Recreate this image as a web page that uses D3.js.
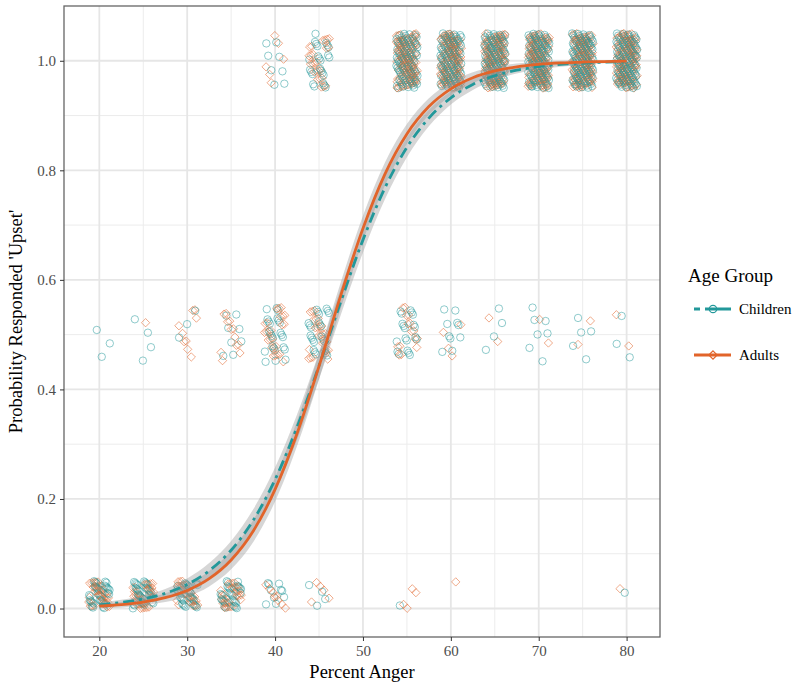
<!DOCTYPE html>
<html><head><meta charset="utf-8">
<script src="https://cdn.jsdelivr.net/npm/d3@7"></script>
<style>body{margin:0;background:#fff}</style></head>
<body><svg id="c" width="800" height="689"></svg>
<script>
// ---------- data ----------
const xLevels = [20,25,30,35,40,45,50,55,60,65,70,75,80];
const responseLevels = [0, 0.5, 1];
// number of observations at each anger level, by response (0 / 0.5 / 1)
const childZero = [35,35,30,30,10,4,0,1,0,0,0,0,1];
const childHalf = [3,4,3,8,25,25,0,20,10,4,7,5,3];
const childOne  = [0,0,0,0,8,25,0,95,100,105,105,105,105];
const adultZero = [35,35,30,30,8,5,0,4,1,0,0,0,1];
const adultHalf = [0,1,9,12,25,25,0,15,4,2,2,2,2];
const adultOne  = [0,0,0,0,6,25,0,95,100,105,105,105,105];

// fitted curves
const curveX = [20,22.5,25,27.5,30,32.5,35,37.5,40,42.5,45,47.5,50,52.5,55,57.5,60,62.5,65,67.5,70,72.5,75,77.5,80];
const childFit = [0.0068,0.0110,0.0175,0.0278,0.0440,0.0690,0.1064,0.1607,0.2355,0.3311,0.4432,0.5614,0.6730,0.7680,0.8419,0.8954,0.9323,0.9568,0.9727,0.9828,0.9893,0.9933,0.9958,0.9974,0.9984];
const adultFit = [0.0042,0.0070,0.0118,0.0197,0.0329,0.0544,0.0886,0.1411,0.2174,0.3195,0.4425,0.5730,0.6940,0.7932,0.8664,0.9164,0.9488,0.9690,0.9814,0.9889,0.9934,0.9961,0.9977,0.9986,0.9992];
const bandHalf = [0.004,0.005,0.006,0.008,0.011,0.014,0.017,0.020,0.022,0.023,0.024,0.024,0.023,0.021,0.018,0.015,0.012,0.010,0.008,0.006,0.005,0.004,0.003,0.002,0.002];

const xTicks = [20,30,40,50,60,70,80];
const yTicks = [0,0.2,0.4,0.6,0.8,1.0];
const groups = ["Children","Adults"];

// ---------- setup ----------
const teal = "#22989a", orange = "#e2642a";
const svg = d3.select("#c");
const L=64, R=660, T=6, B=637;
const x = d3.scaleLinear().domain([15.98,83.8]).range([L,R]);
const y = d3.scaleLinear().domain([-0.052,1.1]).range([B,T]);
const font = "Liberation Serif, Times New Roman, serif";

svg.append("rect").attr("width",800).attr("height",689).attr("fill","#fff");

// grid
const g = svg.append("g");
const xMinor = d3.range(25,85,10), yMinor=[0.1,0.3,0.5,0.7,0.9];
g.selectAll(".xm").data(xMinor).enter().append("line")
  .attr("x1",d=>x(d)).attr("x2",d=>x(d)).attr("y1",T).attr("y2",B)
  .attr("stroke","#ececec").attr("stroke-width",1);
g.selectAll(".ym").data(yMinor).enter().append("line")
  .attr("y1",d=>y(d)).attr("y2",d=>y(d)).attr("x1",L).attr("x2",R)
  .attr("stroke","#ececec").attr("stroke-width",1);
g.selectAll(".xM").data(xTicks).enter().append("line")
  .attr("x1",d=>x(d)).attr("x2",d=>x(d)).attr("y1",T).attr("y2",B)
  .attr("stroke","#e6e6e6").attr("stroke-width",1.8);
g.selectAll(".yM").data(yTicks).enter().append("line")
  .attr("y1",d=>y(d)).attr("y2",d=>y(d)).attr("x1",L).attr("x2",R)
  .attr("stroke","#e6e6e6").attr("stroke-width",1.8);

// ---------- points (deterministic jitter) ----------
function buildPoints(zero, half, one, group, a, b, off){
  const pts=[]; const arrs=[zero,half,one];
  let k = off;
  xLevels.forEach((lv,i)=>{
    responseLevels.forEach((r,j)=>{
      const n = arrs[j][i];
      for(let m=0;m<n;m++){
        k++;
        const u = (k*a + 0.13) % 1;
        const v = (k*b + 0.41) % 1;
        const jx = (u-0.5)*2.4;
        const jy = r===0 ? v*0.05 : (v-0.5)*0.1;
        pts.push({x:lv+jx, y:r+jy, g:group});
      }
    });
  });
  return pts;
}
const childPts = buildPoints(childZero,childHalf,childOne,"Children",0.6180339887,0.7548776662,0);
const adultPts = buildPoints(adultZero,adultHalf,adultOne,"Adults",0.4142135624,0.5698402910,5);
const allPts = [];
const maxLen = Math.max(childPts.length, adultPts.length);
for(let i=0;i<maxLen;i++){ if(i<adultPts.length) allPts.push(adultPts[i]); if(i<childPts.length) allPts.push(childPts[i]); }

const pg = svg.append("g");
const diamond = d3.symbol().type(d3.symbolDiamond2).size(44);
allPts.forEach(p=>{
  if(p.g==="Children"){
    pg.append("circle").attr("cx",x(p.x)).attr("cy",y(p.y)).attr("r",3.7)
      .attr("fill","none").attr("stroke",teal).attr("stroke-width",1).attr("stroke-opacity",0.5);
  } else {
    pg.append("path").attr("d",diamond).attr("transform",`translate(${x(p.x)},${y(p.y)})`)
      .attr("fill","none").attr("stroke",orange).attr("stroke-width",1).attr("stroke-opacity",0.55);
  }
});

// ---------- ribbons + lines ----------
const area = d3.area().x((d,i)=>x(curveX[i])).y0((d,i)=>y(d-bandHalf[i])).y1((d,i)=>y(d+bandHalf[i])).curve(d3.curveMonotoneX);
const line = d3.line().x((d,i)=>x(curveX[i])).y(d=>y(d)).curve(d3.curveMonotoneX);
[childFit, adultFit].forEach(f=>{
  svg.append("path").attr("d",area(f)).attr("fill","#999").attr("fill-opacity",0.4);
});
svg.append("path").attr("d",line(childFit)).attr("fill","none").attr("stroke",teal)
  .attr("stroke-width",2.8).attr("stroke-dasharray","11,5,3,5");
svg.append("path").attr("d",line(adultFit)).attr("fill","none").attr("stroke",orange)
  .attr("stroke-width",2.8);

// panel border
svg.append("rect").attr("x",L).attr("y",T).attr("width",R-L).attr("height",B-T)
  .attr("fill","none").attr("stroke","#666").attr("stroke-width",1.3);

// ---------- axes ----------
const xa = svg.append("g").attr("transform",`translate(0,${B})`)
  .call(d3.axisBottom(x).tickValues(xTicks).tickFormat(d3.format("d")).tickSize(4).tickPadding(4));
const ya = svg.append("g").attr("transform",`translate(${L},0)`)
  .call(d3.axisLeft(y).tickValues(yTicks).tickFormat(d3.format(".1f")).tickSize(4).tickPadding(4));
[xa,ya].forEach(a=>{
  a.select(".domain").remove();
  a.selectAll("line").attr("stroke","#333").attr("stroke-width",1);
  a.selectAll("text").attr("fill","#4d4d4d").style("font-family",font).style("font-size","15px");
});

svg.append("text").attr("x",(L+R)/2).attr("y",678).attr("text-anchor","middle")
  .style("font-family",font).style("font-size","18.5px").attr("fill","#000").text("Percent Anger");
svg.append("text").attr("transform",`translate(22,${(T+B)/2}) rotate(-90)`).attr("text-anchor","middle")
  .style("font-family",font).style("font-size","18.5px").attr("fill","#000").text("Probability Responded 'Upset'");

// ---------- legend ----------
const lg = svg.append("g");
lg.append("text").attr("x",688).attr("y",282).style("font-family",font).style("font-size","19px").text("Age Group");
const keys = [
  {name:"Children", color:teal, yy:309},
  {name:"Adults", color:orange, yy:355}
];
keys.forEach(k=>{
  const ln = lg.append("line").attr("x1",694).attr("x2",731).attr("y1",k.yy).attr("y2",k.yy)
    .attr("stroke",k.color).attr("stroke-width",2.8);
  if(k.name==="Children"){
    ln.attr("stroke-dasharray","6,5,30");
    lg.append("circle").attr("cx",713).attr("cy",k.yy).attr("r",3.7).attr("fill","none").attr("stroke",k.color).attr("stroke-width",1.2);
  } else {
    lg.append("path").attr("d",diamond).attr("transform",`translate(713,${k.yy})`).attr("fill","none").attr("stroke",k.color).attr("stroke-width",1.2);
  }
  lg.append("text").attr("x",739).attr("y",k.yy+5).style("font-family",font).style("font-size","15px").text(k.name);
});
</script>
</body></html>
